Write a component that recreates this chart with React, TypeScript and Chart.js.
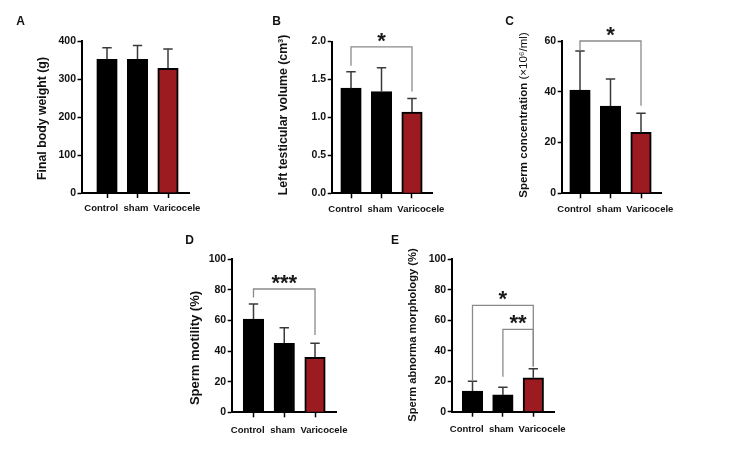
import React, { useEffect, useRef } from 'react';
import { Chart, registerables } from 'chart.js';

Chart.register(...registerables);

// ---------- data ----------
const categories = ['Control', 'sham', 'Varicocele'];
const barColors = ['#000000', '#000000', '#9b1b20'];

const weightMeans = [352, 352, 328];
const weightErrors = [30, 36, 51];
const weightTicks = [0, 100, 200, 300, 400];

const volumeMeans = [1.385, 1.34, 1.07];
const volumeErrors = [0.215, 0.315, 0.18];
const volumeTicks = [0, 0.5, 1.0, 1.5, 2.0];

const concMeans = [40.7, 34.4, 24.0];
const concErrors = [15.4, 10.6, 7.5];
const concTicks = [0, 20, 40, 60];

const motilityMeans = [61, 45.1, 35.9];
const motilityErrors = [9.8, 10.2, 9.2];

const morphMeans = [13.6, 11.0, 22.3];
const morphErrors = [6.3, 5.0, 5.9];

const pctTicks = [0, 20, 40, 60, 80, 100];

// significance brackets: from/to category index, top value, ends of the legs
const volumeSig = [{ from: 0, to: 2, top: 1.93, leftEnd: 1.68, rightEnd: 1.34, label: '*' }];
const concSig = [{ from: 0, to: 2, top: 60, leftEnd: 56.1, rightEnd: 34.5, label: '*' }];
const motilitySig = [{ from: 0, to: 2, top: 80.6, leftEnd: 75, rightEnd: 50.5, label: '***' }];
const morphSig = [
  { from: 0, to: 2, top: 69.8, leftEnd: 20, rightEnd: 29.6, label: '*' },
  { from: 1, to: 2, top: 54, leftEnd: 23, rightEnd: 29.6, label: '**' },
];

// ---------- layout ----------
const W = 734;
const H = 450;
const FONT = "'Liberation Sans', Arial, Helvetica, sans-serif";
const TICK_H = 5;
const LABEL_H = 29;
// category label anchors (in category units, spread apart to avoid overlapping)
const labelSlots = [-0.19, 0.95, 2.29];

type Sig = { from: number; to: number; top: number; leftEnd: number; rightEnd: number; label: string };
type PanelSpec = {
  letter: string; letterX: number; letterY: number;
  title: string; titleExtra: string; titleX: number; titleY: number; titleSize: number;
  axisX: number; right: number; top: number; bottom: number;
  c0: number; c2: number;
  means: number[]; errors: number[]; ticks: number[]; decimals: number;
  sig: Sig[]; labelPad: number;
};

const panels: PanelSpec[] = [
  {
    letter: 'A', letterX: 20.5, letterY: 22,
    title: 'Final body weight (g)', titleExtra: '', titleX: 43, titleY: 118.5, titleSize: 12.3,
    axisX: 81.5, right: 189, top: 41, bottom: 193,
    c0: 107, c2: 168,
    means: weightMeans, errors: weightErrors, ticks: weightTicks, decimals: 0,
    sig: [], labelPad: 5,
  },
  {
    letter: 'B', letterX: 276.5, letterY: 22,
    title: 'Left testicular volume (cm³)', titleExtra: '', titleX: 284, titleY: 115, titleSize: 12.3,
    axisX: 331.7, right: 433, top: 41.5, bottom: 193.3,
    c0: 351, c2: 412,
    means: volumeMeans, errors: volumeErrors, ticks: volumeTicks, decimals: 1,
    sig: volumeSig, labelPad: 5,
  },
  {
    letter: 'C', letterX: 509.5, letterY: 22,
    title: 'Sperm concentration ', titleExtra: '(×10⁶/ml)', titleX: 524, titleY: 115, titleSize: 11.5,
    axisX: 561.7, right: 661.7, top: 41, bottom: 193.3,
    c0: 580, c2: 641,
    means: concMeans, errors: concErrors, ticks: concTicks, decimals: 0,
    sig: concSig, labelPad: 5,
  },
  {
    letter: 'D', letterX: 189.5, letterY: 241,
    title: 'Sperm motility (%)', titleExtra: '', titleX: 195, titleY: 348, titleSize: 13,
    axisX: 231.7, right: 336.7, top: 259.3, bottom: 412.3,
    c0: 253.5, c2: 315,
    means: motilityMeans, errors: motilityErrors, ticks: pctTicks, decimals: 0,
    sig: motilitySig, labelPad: 7,
  },
  {
    letter: 'E', letterX: 395, letterY: 241,
    title: 'Sperm abnorma morphology (%)', titleExtra: '', titleX: 413, titleY: 335, titleSize: 11.2,
    axisX: 451.7, right: 554, top: 259.3, bottom: 411.7,
    c0: 472.5, c2: 533.3,
    means: morphMeans, errors: morphErrors, ticks: pctTicks, decimals: 0,
    sig: morphSig, labelPad: 7,
  },
];

function makeAnnotations(p: PanelSpec) {
  return {
    id: 'annot' + p.letter,
    afterDatasetsDraw(chart: any) {
      const { ctx } = chart;
      const x = chart.scales.x;
      const y = chart.scales.y;
      ctx.save();
      // error bars (upper only)
      ctx.strokeStyle = '#3a3a3a';
      ctx.lineWidth = 1.5;
      p.means.forEach((m, i) => {
        const px = x.getPixelForValue(i);
        const y0 = y.getPixelForValue(m);
        const y1 = y.getPixelForValue(m + p.errors[i]);
        ctx.beginPath();
        ctx.moveTo(px, y0);
        ctx.lineTo(px, y1);
        ctx.moveTo(px - 4.7, y1);
        ctx.lineTo(px + 4.7, y1);
        ctx.stroke();
      });
      // significance brackets
      p.sig.forEach((s) => {
        const xl = x.getPixelForValue(s.from);
        const xr = x.getPixelForValue(s.to);
        const yt = y.getPixelForValue(s.top);
        ctx.strokeStyle = '#8a8a8a';
        ctx.lineWidth = 1.3;
        ctx.beginPath();
        ctx.moveTo(xl, y.getPixelForValue(s.leftEnd));
        ctx.lineTo(xl, yt);
        ctx.lineTo(xr, yt);
        ctx.lineTo(xr, y.getPixelForValue(s.rightEnd));
        ctx.stroke();
        ctx.fillStyle = '#1a1a1a';
        ctx.font = `bold 22px ${FONT}`;
        ctx.textAlign = 'center';
        ctx.textBaseline = 'alphabetic';
        ctx.fillText(s.label, (xl + xr) / 2, yt + 1);
      });
      ctx.restore();
    },
    afterDraw(chart: any) {
      const { ctx } = chart;
      ctx.save();
      ctx.fillStyle = '#111';
      ctx.font = `bold 12px ${FONT}`;
      ctx.textAlign = 'center';
      ctx.textBaseline = 'middle';
      ctx.fillText(p.letter, p.letterX, p.letterY);
      // rotated y-axis title
      const boldFont = `bold ${p.titleSize}px ${FONT}`;
      const regFont = `${p.titleSize}px ${FONT}`;
      ctx.font = boldFont;
      const w1 = ctx.measureText(p.title).width;
      ctx.font = regFont;
      const w2 = p.titleExtra ? ctx.measureText(p.titleExtra).width : 0;
      const total = w1 + w2;
      ctx.translate(p.titleX, p.titleY);
      ctx.rotate(-Math.PI / 2);
      ctx.textAlign = 'left';
      ctx.font = boldFont;
      ctx.fillText(p.title, -total / 2, 0);
      if (p.titleExtra) {
        ctx.font = regFont;
        ctx.fillText(p.titleExtra, -total / 2 + w1, 0);
      }
      ctx.restore();
    },
  };
}

function makeConfig(p: PanelSpec): any {
  const plotW = p.right - p.axisX;
  const range = (2 * plotW) / (p.c2 - p.c0);
  const xMin = -((p.c0 - p.axisX) / plotW) * range;
  const xMax = xMin + range;
  const padLeft = 0;
  const yMax = p.ticks[p.ticks.length - 1];
  return {
    type: 'bar',
    data: {
      datasets: [
        {
          data: p.means.map((v, i) => ({ x: i, y: v })),
          backgroundColor: barColors,
          borderColor: '#000',
          borderWidth: 2,
          barThickness: 20.5,
          xAxisID: 'x',
          yAxisID: 'y',
        },
      ],
    },
    options: {
      animation: false,
      responsive: false,
      devicePixelRatio: 1,
      layout: {
        padding: { left: padLeft, top: p.top, right: W - p.right, bottom: H - p.bottom - TICK_H - LABEL_H },
      },
      plugins: { legend: { display: false }, tooltip: { enabled: false }, title: { display: false } },
      scales: {
        x: {
          type: 'linear',
          position: 'bottom',
          min: xMin,
          max: xMax,
          bounds: 'data',
          offset: false,
          afterBuildTicks: (s: any) => {
            s.ticks = categories.map((_, i) => ({ value: i }));
          },
          afterFit: (s: any) => {
            s.height = TICK_H;
          },
          ticks: { display: false },
          grid: {
            display: true,
            offset: false,
            drawOnChartArea: false,
            drawTicks: true,
            tickLength: TICK_H,
            tickColor: '#000',
            tickWidth: 1.5,
          },
          border: { display: true, color: '#000', width: 2 },
        },
        xl: {
          type: 'linear',
          position: 'bottom',
          min: xMin,
          max: xMax,
          bounds: 'data',
          offset: false,
          afterBuildTicks: (s: any) => {
            s.ticks = labelSlots.map((v) => ({ value: v }));
          },
          afterFit: (s: any) => {
            s.height = LABEL_H;
          },
          ticks: {
            autoSkip: false,
            maxRotation: 0,
            padding: p.labelPad,
            color: '#111',
            font: { family: FONT, size: 9.5, weight: 'bold' },
            callback: (_v: number, i: number) => categories[i] ?? '',
          },
          grid: { display: false, drawTicks: false },
          border: { display: false },
        },
        y: {
          type: 'linear',
          min: 0,
          max: yMax,
          afterBuildTicks: (s: any) => {
            s.ticks = p.ticks.map((v) => ({ value: v }));
          },
          afterFit: (s: any) => {
            s.width = p.axisX - padLeft;
          },
          ticks: {
            padding: 1.5,
            color: '#111',
            font: { family: FONT, size: 10.5, weight: 'bold' },
            callback: (v: number) => Number(v).toFixed(p.decimals),
          },
          grid: {
            display: true,
            drawOnChartArea: false,
            drawTicks: true,
            tickLength: 4,
            tickColor: '#000',
            tickWidth: 1.5,
          },
          border: { display: true, color: '#000', width: 2 },
        },
      },
    },
    plugins: [makeAnnotations(p)],
  };
}

function Panel({ spec }: { spec: PanelSpec }) {
  const ref = useRef<HTMLCanvasElement>(null);
  useEffect(() => {
    if (!ref.current) return;
    const chart = new Chart(ref.current, makeConfig(spec));
    return () => chart.destroy();
  }, [spec]);
  return (
    <canvas
      ref={ref}
      width={W}
      height={H}
      style={{ position: 'absolute', left: 0, top: 0, width: W, height: H }}
    />
  );
}

export default function App() {
  return (
    <div style={{ position: 'absolute', left: 0, top: 0, width: W, height: H, background: '#fff' }}>
      {panels.map((p) => (
        <Panel key={p.letter} spec={p} />
      ))}
    </div>
  );
}
